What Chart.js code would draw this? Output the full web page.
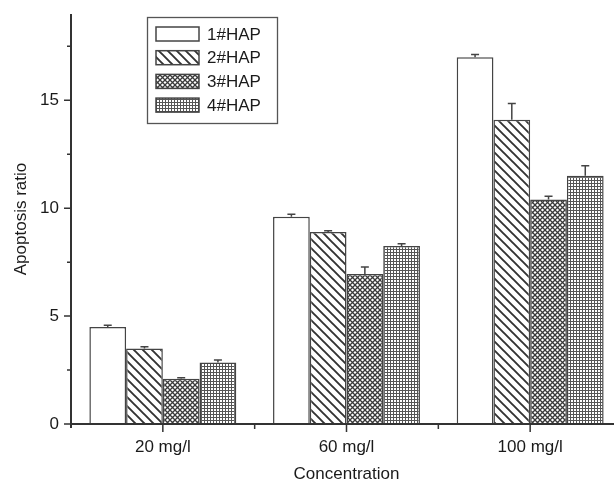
<!DOCTYPE html>
<html>
<head>
<meta charset="utf-8">
<script src="https://cdn.jsdelivr.net/npm/chart.js@4"></script>
<style>
    html, body { margin: 0; padding: 0; background: #fff; overflow: hidden; }
    #wrap { width: 622px; height: 483px; }
</style>
</head>
<body>
<div id="wrap"><canvas id="apoChart"></canvas></div>
<script>
const concentrations = ['20 mg/l', '60 mg/l', '100 mg/l'];
const seriesNames = ['1#HAP', '2#HAP', '3#HAP', '4#HAP'];
const hap1 = [4.5, 9.6, 17.0];
const hap2 = [3.5, 8.9, 14.1];
const hap3 = [2.1, 6.95, 10.4];
const hap4 = [2.85, 8.25, 11.5];
const err1 = [0.08, 0.12, 0.12];
const err2 = [0.08, 0.05, 0.75];
const err3 = [0.04, 0.33, 0.15];
const err4 = [0.12, 0.1, 0.47];
const yTicks = [0, 5, 10, 15];
const yMinorTicks = [2.5, 7.5, 12.5, 17.5];

const ink = '#333';
const font = {family: '"Liberation Sans", Arial, sans-serif', size: 17};

// small tiles for the bar fills
function tile(size, paint) {
    let c = document.createElement('canvas');
    c.width = size;
    c.height = size;
    let g = c.getContext('2d');
    g.fillStyle = '#fff';
    g.fillRect(0, 0, size, size);
    paint(g, size);
    return document.createElement('canvas').getContext('2d').createPattern(c, 'repeat');
}

const fillPlain = '#fff';
const fillDiag = tile(9, (g, s) => {
    g.strokeStyle = '#333';
    g.lineWidth = 1.9;
    g.beginPath();
    g.moveTo(-2, -2); g.lineTo(s + 2, s + 2);
    g.moveTo(s - 2, -2); g.lineTo(s + 2, 2);
    g.moveTo(-2, s - 2); g.lineTo(2, s + 2);
    g.stroke();
});
const fillCross = tile(5, (g, s) => {
    g.strokeStyle = '#3a3a3a';
    g.lineWidth = 1.3;
    g.beginPath();
    g.moveTo(-1, -1); g.lineTo(s + 1, s + 1);
    g.moveTo(s + 1, -1); g.lineTo(-1, s + 1);
    g.stroke();
});
const fillGrid = tile(3, (g, s) => {
    g.fillStyle = '#555';
    g.fillRect(0, 0, s, 1);
    g.fillRect(0, 0, 1, s);
});

const values = [hap1, hap2, hap3, hap4];
const errors = [err1, err2, err3, err4];
const fills = [fillPlain, fillDiag, fillCross, fillGrid];

// axes, ticks and the upper error bars
const axesPlugin = {
    id: 'axesPlugin',
    afterDatasetsDraw(chart) {
        let ctx = chart.ctx;
        let area = chart.chartArea;
        let xs = chart.scales.x, ys = chart.scales.y;
        ctx.save();

        ctx.strokeStyle = '#444';
        ctx.lineWidth = 1.5;
        values.forEach((arr, i) => {
            let meta = chart.getDatasetMeta(i);
            arr.forEach((v, j) => {
                let bar = meta.data[j];
                let yTop = ys.getPixelForValue(v + errors[i][j]);
                ctx.beginPath();
                ctx.moveTo(bar.x, bar.y);
                ctx.lineTo(bar.x, yTop);
                ctx.moveTo(bar.x - 4, yTop);
                ctx.lineTo(bar.x + 4, yTop);
                ctx.stroke();
            });
        });

        ctx.strokeStyle = ink;
        ctx.lineWidth = 2;
        ctx.beginPath();
        ctx.moveTo(area.left, area.top);
        ctx.lineTo(area.left, area.bottom + 4);
        ctx.moveTo(area.left - 1, area.bottom);
        ctx.lineTo(chart.width, area.bottom);
        ctx.stroke();

        ctx.lineWidth = 1.5;
        ctx.beginPath();
        yTicks.forEach(v => {
            let y = ys.getPixelForValue(v);
            ctx.moveTo(area.left - 7, y);
            ctx.lineTo(area.left, y);
        });
        yMinorTicks.forEach(v => {
            let y = ys.getPixelForValue(v);
            ctx.moveTo(area.left - 4, y);
            ctx.lineTo(area.left, y);
        });
        concentrations.forEach((c, j) => {
            let x = xs.getPixelForValue(j);
            ctx.moveTo(x, area.bottom);
            ctx.lineTo(x, area.bottom + 8);
            if (j < concentrations.length - 1) {
                let xm = (x + xs.getPixelForValue(j + 1)) / 2;
                ctx.moveTo(xm, area.bottom);
                ctx.lineTo(xm, area.bottom + 5);
            }
        });
        ctx.stroke();
        ctx.restore();
    }
};

// boxed legend in the upper left
const legendBox = {
    id: 'legendBox',
    afterDraw(chart) {
        let ctx = chart.ctx;
        ctx.save();
        ctx.strokeStyle = '#555';
        ctx.lineWidth = 1.3;
        ctx.strokeRect(147.5, 17.5, 130, 106);
        ctx.font = font.size + 'px ' + font.family;
        ctx.textBaseline = 'middle';
        seriesNames.forEach((name, i) => {
            let cy = 34 + i * 23.7;
            ctx.fillStyle = fills[i];
            ctx.fillRect(156, cy - 7, 43, 14);
            ctx.strokeStyle = '#444';
            ctx.lineWidth = 1.5;
            ctx.strokeRect(156, cy - 7, 43, 14);
            ctx.fillStyle = '#1a1a1a';
            ctx.fillText(name, 207, cy + 1);
        });
        ctx.restore();
    }
};

const ctx = document.getElementById('apoChart').getContext('2d');
const apoChart = new Chart(ctx, {
    type: 'bar',
    data: {
        labels: concentrations,
        datasets: seriesNames.map((name, i) => ({
            label: name,
            data: values[i],
            backgroundColor: fills[i],
            borderColor: '#444',
            borderWidth: 1.5,
            categoryPercentage: 0.8,
            barPercentage: 1.0
        }))
    },
    options: {
        responsive: true,
        maintainAspectRatio: false,
        animation: false,
        devicePixelRatio: 1,
        layout: {padding: {top: 14, left: 0, right: 0, bottom: 0}},
        plugins: {legend: {display: false}, tooltip: {enabled: false}},
        scales: {
            x: {
                grid: {display: false, drawTicks: false, tickLength: 0},
                border: {display: false},
                ticks: {color: '#1a1a1a', font: font, padding: 13, maxRotation: 0},
                title: {display: true, text: 'Concentration', color: '#1a1a1a', font: {...font, lineHeight: 1}, padding: {top: 0, bottom: 0}},
                afterFit: s => { s.height = 59; s.paddingLeft = 0; s.paddingRight = 0; }
            },
            y: {
                min: 0,
                max: 19,
                grid: {display: false, drawTicks: false, tickLength: 0},
                border: {display: false},
                ticks: {color: '#1a1a1a', font: font, padding: 12},
                afterBuildTicks: s => { s.ticks = yTicks.map(v => ({value: v})); },
                title: {display: true, text: 'Apoptosis ratio', color: '#1a1a1a', font: {...font, lineHeight: 1}, padding: {top: 13, bottom: 0}},
                afterFit: s => { s.width = 71; s.paddingTop = 0; s.paddingBottom = 0; }
            }
        }
    },
    plugins: [axesPlugin, legendBox]
});
</script>
</body>
</html>
